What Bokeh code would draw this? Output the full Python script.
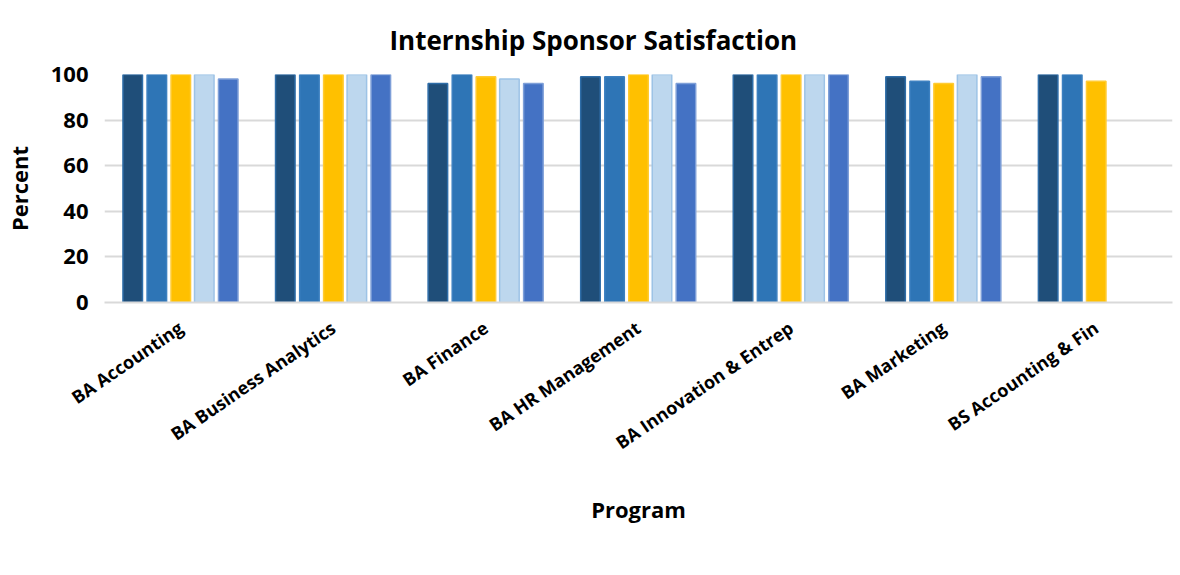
import numpy as np
from bokeh.plotting import figure
from bokeh.models import ColumnDataSource, Legend, LegendItem, FactorRange, Range1d, SingleIntervalTicker
from bokeh.transform import dodge
from bokeh.embed import file_html
from bokeh.resources import INLINE

programs = ["BA Accounting", "BA Business Analytics", "BA Finance", "BA HR Management",
            "BA Innovation & Entrep", "BA Marketing", "BS Accounting & Fin"]
years = ["2017", "2018", "2019", "2020", "2021"]
v2017 = [100, 100, 96, 99, 100, 99, 100]
v2018 = [100, 100, 100, 99, 100, 97, 100]
v2019 = [100, 100, 99, 100, 100, 96, 97]
v2020 = [100, 100, 98, 100, 100, 100, np.nan]
v2021 = [98, 100, 96, 96, 100, 99, np.nan]

fills = ["#1F4E79", "#2E75B6", "#FFC000", "#BDD7EE", "#4472C4"]
lines = ["#2E6DA8", "#3C80C0", "#FFCB33", "#9DC3E6", "#7E9FD8"]

src = ColumnDataSource(dict(program=programs, y2017=v2017, y2018=v2018, y2019=v2019,
                            y2020=v2020, y2021=v2021))

FONT = "Open Sans"
p = figure(frame_width=1068, frame_height=228, x_range=FactorRange(*programs), y_range=Range1d(0, 100),
           output_backend="svg", toolbar_location=None, min_border_left=101,
           min_border_right=4, min_border_top=74, min_border_bottom=0)
p.outline_line_color = None
p.title.text = "Internship Sponsor Satisfaction"
p.title.align = "left"
p.title.offset = 285
p.title.standoff = 34
p.title.text_font = FONT
p.title.text_font_size = "26px"
p.title.text_font_style = "bold"
p.title.text_color = "#000000"

offsets = [-0.315, -0.157, 0.0, 0.154, 0.311]
keys = ["y2017", "y2018", "y2019", "y2020", "y2021"]
renderers = []
for k, off, fc, lc in zip(keys, offsets, fills, lines):
    r = p.vbar(x=dodge("program", off, range=p.x_range), top=k, width=0.128, source=src,
               fill_color=fc, line_color=lc, line_width=1.5)
    renderers.append(r)

p.xgrid.grid_line_color = None
p.ygrid.grid_line_color = "#D9D9D9"
p.ygrid.grid_line_width = 2
p.yaxis.ticker = SingleIntervalTicker(interval=20)
p.yaxis.axis_line_color = None
p.yaxis.major_tick_line_color = None
p.yaxis.minor_tick_line_color = None
p.yaxis.major_tick_out = 0
p.yaxis.major_label_standoff = 12
p.yaxis.major_label_text_font = FONT
p.yaxis.major_label_text_font_style = "bold"
p.yaxis.major_label_text_font_size = "22px"
p.yaxis.major_label_text_color = "#000000"
p.yaxis.axis_label = "Percent"
p.yaxis.axis_label_text_font = FONT
p.yaxis.axis_label_text_font_style = "bold"
p.yaxis.axis_label_text_font_size = "22px"
p.yaxis.axis_label_text_color = "#000000"
p.yaxis.axis_label_standoff = 14

p.xaxis.axis_line_color = "#D9D9D9"
p.xaxis.axis_line_width = 2
p.xaxis.major_tick_line_color = None
p.xaxis.minor_tick_line_color = None
p.xaxis.major_tick_out = 0
p.xaxis.major_label_orientation = 0.6
p.xaxis.major_label_text_font = FONT
p.xaxis.major_label_text_font_style = "bold"
p.xaxis.major_label_text_font_size = "18px"
p.xaxis.major_label_text_color = "#000000"
p.xaxis.major_label_standoff = 23
p.xaxis.axis_label = "Program"
p.xaxis.axis_label_text_font = FONT
p.xaxis.axis_label_text_font_style = "bold"
p.xaxis.axis_label_text_font_size = "22px"
p.xaxis.axis_label_text_color = "#000000"
p.xaxis.axis_label_standoff = 27

legend = Legend(items=[LegendItem(label=y, renderers=[r]) for y, r in zip(years, renderers)],
                orientation="horizontal", location="top_center")
legend.label_text_font = FONT
legend.label_text_font_size = "20px"
legend.label_text_color = "#000000"
legend.label_height = 20
legend.label_standoff = 6
legend.glyph_width = 15
legend.glyph_height = 14
legend.spacing = 19
legend.border_line_color = None
legend.background_fill_alpha = 0
legend.padding = 0
legend.margin = 0
p.add_layout(legend, "below")

open("out.html", "w").write(file_html(p, INLINE))
